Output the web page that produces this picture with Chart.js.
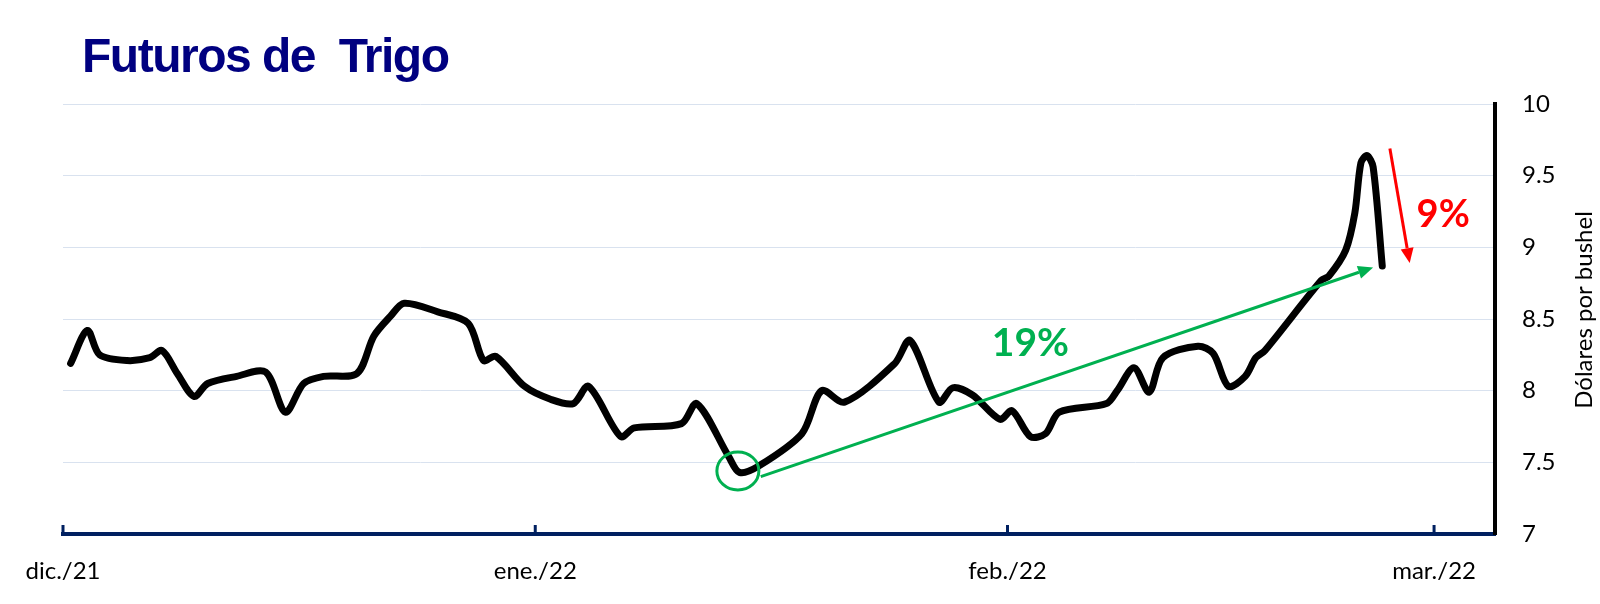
<!DOCTYPE html>
<html><head><meta charset="utf-8">
<script src="https://cdn.jsdelivr.net/npm/chart.js@4.4.1/dist/chart.umd.min.js"></script>
<style>
html,body{margin:0;padding:0;background:#fff;}
#wrap{position:relative;width:1600px;height:604px;overflow:hidden;}
#title{position:absolute;left:82px;top:32px;margin:0;font:bold 48px "Liberation Sans",Arial,sans-serif;line-height:48px;color:#000080;letter-spacing:-1.5px;white-space:pre;}
canvas{position:absolute;left:0;top:0;}
</style></head><body>
<div id="wrap"><canvas id="c" width="1600" height="604"></canvas><div id="title"></div></div>
<script>
// ---- data ----
const chartTitle = 'Futuros de  Trigo';
// days after 1 Dec 2021
const days = [0.5, 1.6, 2.4, 4.2, 5.7, 6.5, 7.5, 8.6, 9.5, 11.4, 13.3, 14.6, 15.8, 17.1, 19.3, 20.4, 21.5, 22.4, 24.6, 26.6, 27.6, 28.4, 30.3, 32.0, 33.5, 34.5, 36.6, 37.5, 40.6, 41.6, 43.7, 44.4, 45.6, 48.5, 49.8, 51.3, 54.6, 55.6, 57.5, 58.4, 59.7, 61.5, 62.3, 63.5, 64.5, 65.4, 68.5, 69.2, 70.3, 71.3, 72.2, 74.5, 75.5, 76.5, 77.6, 78.3, 78.9, 82.6, 83.1, 84.2, 84.8, 85.2, 85.6, 86.0, 86.6];
const prices = [8.19, 8.42, 8.25, 8.21, 8.23, 8.28, 8.12, 7.96, 8.05, 8.10, 8.13, 7.85, 8.05, 8.10, 8.12, 8.38, 8.52, 8.61, 8.55, 8.47, 8.21, 8.24, 8.03, 7.94, 7.91, 8.03, 7.68, 7.74, 7.77, 7.91, 7.54, 7.43, 7.47, 7.70, 8.00, 7.92, 8.19, 8.35, 7.92, 8.02, 7.97, 7.80, 7.86, 7.68, 7.70, 7.85, 7.91, 8.00, 8.16, 7.99, 8.23, 8.31, 8.26, 8.03, 8.10, 8.23, 8.28, 8.77, 8.80, 8.98, 9.24, 9.59, 9.64, 9.56, 8.87];
const tickDays = [0, 31, 62, 90];
const tickLabels = ['dic./21', 'ene./22', 'feb./22', 'mar./22'];
const yTitle = 'Dólares por bushel';
// annotations, in data units [day, price]
const circleAt = [44.3, 7.44];
const greenFrom = [45.8, 7.40];
const greenTo = [86.0, 8.86];
const redFrom = [87.1, 9.69];
const redTo = [88.4, 8.89];
const greenText = '19%';
const greenTextAt = [63.5, 8.33];
const redText = '9%';
const redTextAt = [90.6, 9.23];

document.getElementById('title').textContent = chartTitle;

function arrow(ctx, x1, y1, x2, y2, color, w, hl, hw) {
  const a = Math.atan2(y2 - y1, x2 - x1);
  const bx = x2 - hl * Math.cos(a), by = y2 - hl * Math.sin(a);
  ctx.strokeStyle = color; ctx.lineWidth = w; ctx.lineCap = 'butt';
  ctx.beginPath(); ctx.moveTo(x1, y1); ctx.lineTo(bx, by); ctx.stroke();
  ctx.fillStyle = color;
  ctx.beginPath(); ctx.moveTo(x2, y2);
  ctx.lineTo(bx + hw / 2 * Math.sin(a), by - hw / 2 * Math.cos(a));
  ctx.lineTo(bx - hw / 2 * Math.sin(a), by + hw / 2 * Math.cos(a));
  ctx.closePath(); ctx.fill();
}

const annot = {
  id: 'annot',
  afterDraw(chart) {
    const ctx = chart.ctx, x = chart.scales.x, y = chart.scales.y, ca = chart.chartArea;
    const P = p => [x.getPixelForValue(p[0]), y.getPixelForValue(p[1])];
    ctx.save();
    // inward x ticks
    ctx.strokeStyle = '#002060'; ctx.lineWidth = 3;
    tickDays.forEach(d => {
      const px = x.getPixelForValue(d);
      ctx.beginPath(); ctx.moveTo(px, ca.bottom); ctx.lineTo(px, ca.bottom - 9); ctx.stroke();
    });
    // green circle + arrow
    const c = P(circleAt);
    ctx.strokeStyle = '#00b050'; ctx.lineWidth = 3;
    ctx.beginPath(); ctx.ellipse(c[0], c[1], 21, 19, 0, 0, Math.PI * 2); ctx.stroke();
    const g1 = P(greenFrom), g2 = P(greenTo);
    arrow(ctx, g1[0], g1[1], g2[0], g2[1], '#00b050', 3, 15, 13);
    const r1 = P(redFrom), r2 = P(redTo);
    arrow(ctx, r1[0], r1[1], r2[0], r2[1], '#ff0000', 3, 15, 13);
    // labels
    ctx.textAlign = 'center'; ctx.textBaseline = 'middle';
    ctx.font = 'bold 39px Lato';
    ctx.fillStyle = '#00b050';
    const gt = P(greenTextAt); ctx.fillText(greenText, gt[0], gt[1]);
    ctx.font = 'bold 38px Lato';
    ctx.fillStyle = '#ff0000';
    const rt = P(redTextAt); ctx.fillText(redText, rt[0], rt[1]);
    // y axis title, reading upward
    ctx.font = '24px Lato'; ctx.fillStyle = '#000';
    ctx.translate(y.right - 16, (ca.top + ca.bottom) / 2 - 9);
    ctx.rotate(-Math.PI / 2);
    ctx.fillText(yTitle, 0, 0);
    ctx.restore();
  }
};

new Chart(document.getElementById('c'), {
  type: 'line',
  data: { datasets: [{
    data: days.map((d, i) => ({ x: d, y: prices[i] })),
    borderColor: '#000', borderWidth: 7, tension: 0.3, pointRadius: 0,
    borderCapStyle: 'round', borderJoinStyle: 'round', fill: false
  }]},
  options: {
    responsive: false, animation: false, locale: 'en-US',
    layout: { padding: { top: 104, left: 63, right: 0, bottom: 0 } },
    plugins: { legend: { display: false }, tooltip: { enabled: false }, title: { display: false } },
    scales: {
      x: {
        type: 'linear', min: 0, max: 94,
        grid: { drawOnChartArea: false, drawTicks: false },
        border: { color: '#002060', width: 4 },
        afterBuildTicks: s => { s.ticks = tickDays.map(v => ({ value: v })); },
        afterFit: s => { s.height = 70; },
        ticks: { padding: 23, font: { family: 'Lato', size: 24 }, color: '#000', maxRotation: 0, autoSkip: false,
          callback: (v, i) => tickLabels[i] }
      },
      y: {
        position: 'right', min: 7, max: 10,
        grid: { color: c => (c.tick && c.tick.value === 7) ? 'rgba(0,0,0,0)' : '#d9e2ef', lineWidth: 1, drawTicks: false },
        border: { color: '#000', width: 4 },
        afterFit: s => { s.width = 105; },
        ticks: { stepSize: 0.5, padding: 27, font: { family: 'Lato', size: 24 }, color: '#000',
          callback: v => String(Math.round(v * 10) / 10) }
      }
    }
  },
  plugins: [annot]
});
</script>
</body></html>
